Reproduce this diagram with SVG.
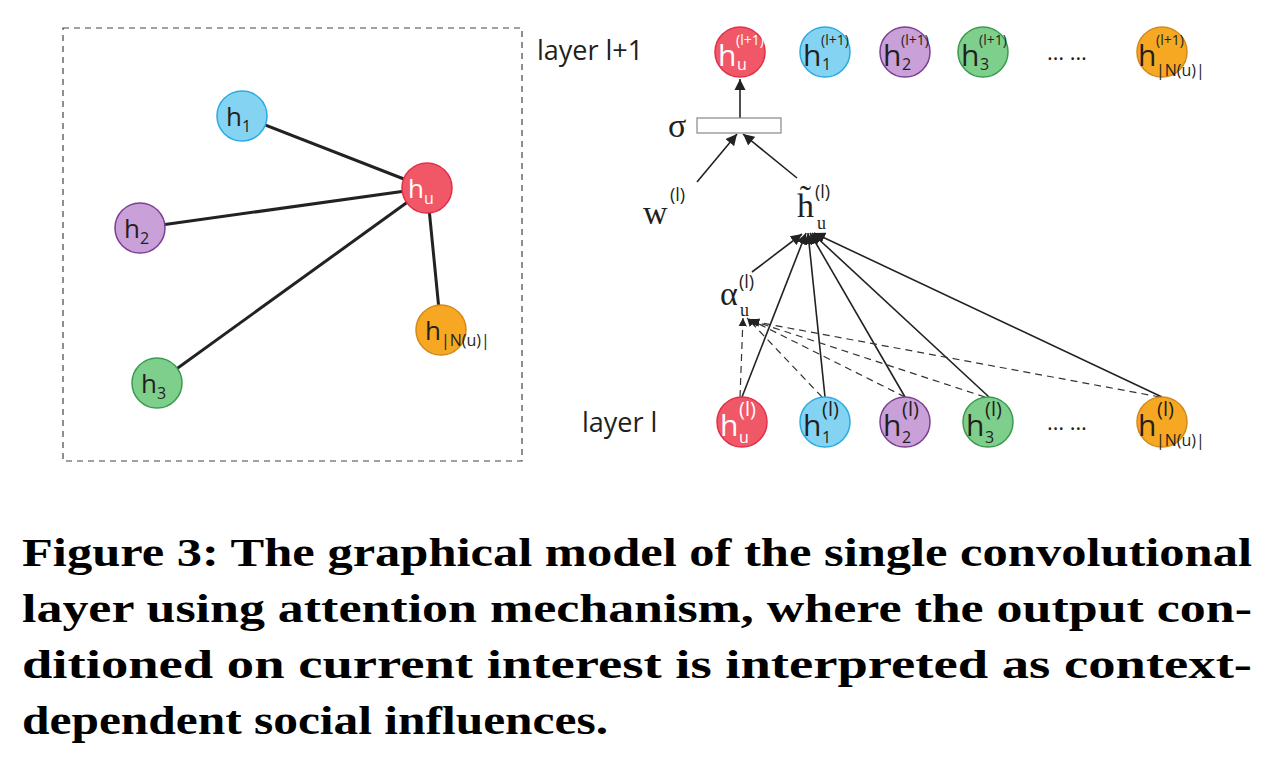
<svg xmlns="http://www.w3.org/2000/svg" width="1280" height="763" viewBox="0 0 1280 763">
<style>
.n{stroke-width:1.5}
.r{fill:#f05868;stroke:#e0304a}.b{fill:#84d3f3;stroke:#29abe2}.p{fill:#c9a0d8;stroke:#7b3f93}.g{fill:#7fcf8c;stroke:#3a9b4e}.o{fill:#f7a823;stroke:#d4891a}
text{font-family:"Open Sans","DejaVu Sans",sans-serif;fill:#231f20}
.h{font-size:30px}.s{font-size:16px}.t{font-size:14px}.w{fill:#fff}
.c{font-family:"Liberation Serif",serif;font-weight:bold;font-size:40px;fill:#000}
.m{font-family:"Liberation Serif",serif;font-size:34px}
.e{stroke:#222;stroke-width:3;fill:none}
.a{stroke:#222;stroke-width:1.6;fill:none}
.d{stroke:#333;stroke-width:1.2;stroke-dasharray:7 5;fill:none}
</style>
<defs><marker id="ar" viewBox="0 0 10 10" refX="10" refY="5" markerWidth="7" markerHeight="7" orient="auto-start-reverse"><path d="M0,0L10,5L0,10z" fill="#222"/></marker></defs>
<rect x="63" y="28" width="459" height="433" fill="none" stroke="#444" stroke-width="1.2" stroke-dasharray="6 5"/>
<g id="left-edges">
<line class="e" x1="242" y1="116" x2="427" y2="188"/><line class="e" x1="140" y1="228" x2="427" y2="188"/><line class="e" x1="157" y1="383" x2="427" y2="188"/><line class="e" x1="441" y1="330" x2="427" y2="188"/>
</g>
<g id="L1"><circle class="n b" cx="242" cy="116" r="25"/><text class="h" x="226" y="126" style="font-size:26px">h<tspan class="s" dy="6">1</tspan></text></g>
<g id="Lu"><circle class="n r" cx="427" cy="188" r="25"/><text class="h w" x="408" y="198" style="font-size:26px">h<tspan class="s w" dy="6">u</tspan></text></g>
<g id="L2"><circle class="n p" cx="140" cy="228" r="25"/><text class="h" x="124" y="238" style="font-size:26px">h<tspan class="s" dy="6">2</tspan></text></g>
<g id="LN"><circle class="n o" cx="441" cy="330" r="25"/><text class="h" x="425" y="340" style="font-size:26px">h<tspan class="s" dy="6">|N(u)|</tspan></text></g>
<g id="L3"><circle class="n g" cx="157" cy="383" r="25"/><text class="h" x="141" y="393" style="font-size:26px">h<tspan class="s" dy="6">3</tspan></text></g>

<text x="537" y="60" style="font-size:27px">layer l+1</text>
<text x="582" y="432" style="font-size:27px">layer l</text>

<g id="connectors">
<line class="a" x1="740" y1="118" x2="740" y2="79" marker-end="url(#ar)"/>
<line class="a" x1="697" y1="182" x2="737" y2="134" marker-end="url(#ar)"/>
<line class="a" x1="797" y1="178" x2="743" y2="134" marker-end="url(#ar)"/>
<line class="a" x1="752" y1="272" x2="802" y2="234" marker-end="url(#ar)"/>
<line class="a" x1="742" y1="397" x2="806" y2="233" marker-end="url(#ar)"/>
<line class="a" x1="825" y1="397" x2="808" y2="233" marker-end="url(#ar)"/>
<line class="a" x1="905" y1="397" x2="810" y2="233" marker-end="url(#ar)"/>
<line class="a" x1="989" y1="397" x2="812" y2="233" marker-end="url(#ar)"/>
<line class="a" x1="1162" y1="397" x2="814" y2="233" marker-end="url(#ar)"/>
<line class="d" x1="740" y1="397" x2="743" y2="318" marker-end="url(#ar)"/>
<line class="d" x1="822" y1="397" x2="747" y2="318" marker-end="url(#ar)"/>
<line class="d" x1="905" y1="397" x2="749" y2="319" marker-end="url(#ar)"/>
<line class="d" x1="985" y1="397" x2="750" y2="320" marker-end="url(#ar)"/>
<line class="d" x1="1160" y1="397" x2="751" y2="321" marker-end="url(#ar)"/>
</g>

<g id="sigma"><rect x="697" y="118" width="84" height="15" fill="#fff" stroke="#888" stroke-width="1.2"/><text class="m" x="668" y="137">σ</text></g>
<g id="w"><text class="m" x="643" y="224">w</text><text class="s" x="670" y="201" style="font-size:18px">(l)</text></g>
<g id="htilde"><text class="m" x="797" y="217">h̃</text><text class="s" x="815" y="198" style="font-size:18px">(l)</text><text x="817" y="229" style="font-family:'Liberation Serif',serif;font-size:18px">u</text></g>
<g id="alpha"><text class="m" x="720" y="305">α</text><text class="s" x="739" y="288" style="font-size:18px">(l)</text><text x="740" y="316" style="font-family:'Liberation Serif',serif;font-size:18px">u</text></g>

<g id="Tu"><circle class="n r" cx="740" cy="52" r="25"/><text class="h w" x="718" y="66">h</text><text class="t w" x="736" y="45">(l+1)</text><text class="s w" x="737" y="70">u</text></g>
<g id="T1"><circle class="n b" cx="825" cy="52" r="25"/><text class="h" x="803" y="66">h</text><text class="t" x="821" y="45">(l+1)</text><text class="s" x="822" y="70">1</text></g>
<g id="T2"><circle class="n p" cx="905" cy="52" r="25"/><text class="h" x="883" y="66">h</text><text class="t" x="901" y="45">(l+1)</text><text class="s" x="902" y="70">2</text></g>
<g id="T3"><circle class="n g" cx="983" cy="52" r="25"/><text class="h" x="961" y="66">h</text><text class="t" x="979" y="45">(l+1)</text><text class="s" x="980" y="70">3</text></g>
<text x="1047" y="60" style="font-size:22px">… …</text>
<g id="TN"><circle class="n o" cx="1162" cy="52" r="25"/><text class="h" x="1138" y="66">h</text><text class="t" x="1156" y="45">(l+1)</text><text class="s" x="1156" y="76">|N(u)|</text></g>

<g id="Bu"><circle class="n r" cx="742" cy="422" r="25"/><text class="h w" x="720" y="436">h</text><text class="s w" x="739" y="416" style="font-size:20px">(l)</text><text class="s w" x="739" y="443">u</text></g>
<g id="B1"><circle class="n b" cx="825" cy="422" r="25"/><text class="h" x="803" y="436">h</text><text class="s" x="822" y="416" style="font-size:20px">(l)</text><text class="s" x="822" y="443">1</text></g>
<g id="B2"><circle class="n p" cx="905" cy="422" r="25"/><text class="h" x="883" y="436">h</text><text class="s" x="902" y="416" style="font-size:20px">(l)</text><text class="s" x="902" y="443">2</text></g>
<g id="B3"><circle class="n g" cx="988" cy="422" r="25"/><text class="h" x="966" y="436">h</text><text class="s" x="985" y="416" style="font-size:20px">(l)</text><text class="s" x="985" y="443">3</text></g>
<text x="1047" y="430" style="font-size:22px">… …</text>
<g id="BN"><circle class="n o" cx="1162" cy="422" r="25"/><text class="h" x="1138" y="436">h</text><text class="s" x="1157" y="416" style="font-size:20px">(l)</text><text class="s" x="1156" y="446">|N(u)|</text></g>

<g id="caption">
<text class="c" x="22" y="566" textLength="1230" lengthAdjust="spacingAndGlyphs">Figure 3: The graphical model of the single convolutional</text>
<text class="c" x="22" y="622" textLength="1230" lengthAdjust="spacingAndGlyphs">layer using attention mechanism, where the output con-</text>
<text class="c" x="22" y="678" textLength="1230" lengthAdjust="spacingAndGlyphs">ditioned on current interest is interpreted as context-</text>
<text class="c" x="22" y="734" textLength="586" lengthAdjust="spacingAndGlyphs">dependent social influences.</text>
</g>
</svg>
